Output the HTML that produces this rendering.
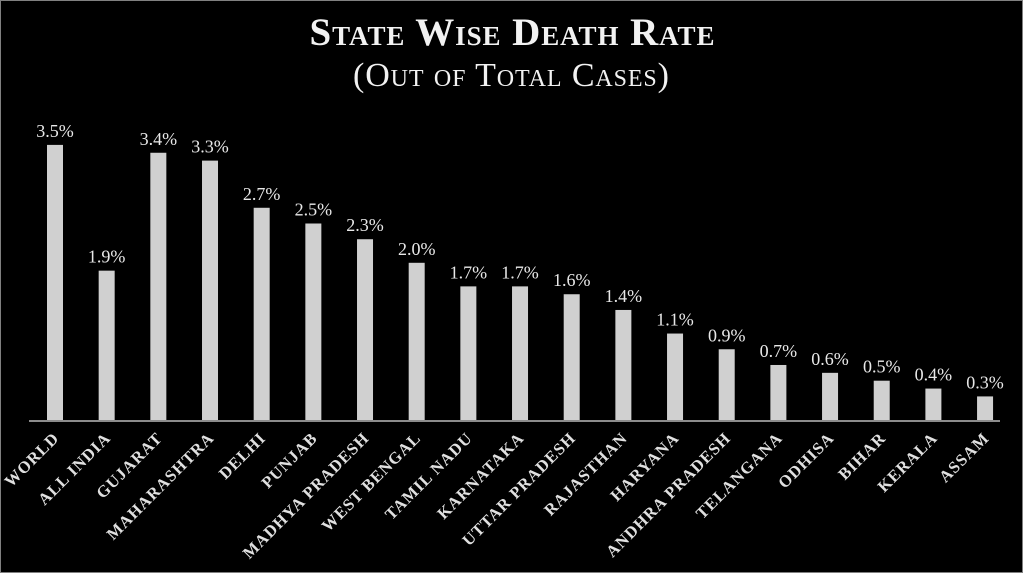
<!DOCTYPE html>
<html><head><meta charset="utf-8"><style>
html,body{margin:0;padding:0;background:#000;}
svg{display:block;}
text{font-family:"Liberation Serif","DejaVu Serif",serif;}
</style></head><body>
<svg width="1023" height="573" viewBox="0 0 1023 573" xmlns="http://www.w3.org/2000/svg">
<rect x="0.5" y="0.5" width="1022" height="572" fill="#000" stroke="#808080"/>
<text x="512" y="45" text-anchor="middle" fill="#f2f2f2" font-size="39" font-weight="bold" style="font-variant:small-caps" textLength="405">State Wise Death Rate</text>
<text x="511" y="86" text-anchor="middle" fill="#f2f2f2" font-size="34" style="font-variant:small-caps" textLength="316">(Out of Total Cases)</text>
<line x1="29" y1="421" x2="1000" y2="421" stroke="#8c8c8c" stroke-width="2"/>
<g id="bars" fill="#d0d0d0"></g>
<g id="vals" fill="#e8e8e8" font-size="18" text-anchor="middle"></g>
<g id="labs" fill="#e0e0e0" font-size="16.5" font-weight="bold" text-anchor="end" letter-spacing="1"></g>
<script>
var d=[["WORLD",3.5],["ALL INDIA",1.9],["GUJARAT",3.4],["MAHARASHTRA",3.3],["DELHI",2.7],["PUNJAB",2.5],["MADHYA PRADESH",2.3],["WEST BENGAL",2.0],["TAMIL NADU",1.7],["KARNATAKA",1.7],["UTTAR PRADESH",1.6],["RAJASTHAN",1.4],["HARYANA",1.1],["ANDHRA PRADESH",0.9],["TELANGANA",0.7],["ODHISA",0.6],["BIHAR",0.5],["KERALA",0.4],["ASSAM",0.3]];
var ns="http://www.w3.org/2000/svg",b=document.getElementById("bars"),v=document.getElementById("vals"),l=document.getElementById("labs");
d.forEach(function(e,i){var cx=55+i*51.67,h=e[1]*78.6,y=420-h;
var r=document.createElementNS(ns,"rect");r.setAttribute("x",cx-8);r.setAttribute("y",y);r.setAttribute("width",16);r.setAttribute("height",h);b.appendChild(r);
var t=document.createElementNS(ns,"text");t.setAttribute("x",cx);t.setAttribute("y",y-8);t.textContent=e[1].toFixed(1)+"%";v.appendChild(t);
var s=document.createElementNS(ns,"text");s.setAttribute("transform","translate("+(cx+5)+",439) rotate(-45)");s.textContent=e[0];l.appendChild(s);});
</script>
</svg>
</body></html>
